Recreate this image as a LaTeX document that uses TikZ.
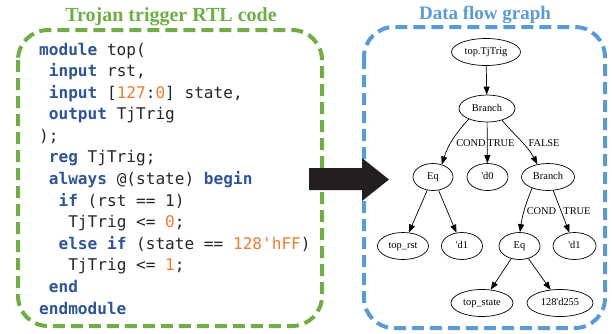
\documentclass[tikz,border=0pt]{standalone}
\usepackage{fontspec}
\setmainfont{Liberation Serif}
\setmonofont{DejaVu Sans Mono}
\usetikzlibrary{shapes.geometric,arrows.meta}

\definecolor{framegreen}{HTML}{70AD47}
\definecolor{frameblue}{HTML}{5B9BD5}
\definecolor{kwblue}{HTML}{2F5597}
\definecolor{numorange}{HTML}{ED7D31}
\definecolor{codetext}{HTML}{262626}
\definecolor{arrowblack}{HTML}{231F20}

% Verilog highlighting
\newcommand\kw[1]{{\color{kwblue}\bfseries #1}}
\newcommand\nm[1]{{\color{numorange}#1}}
\newcommand\sq{\textquotesingle}

\tikzset{
  frame/.style={line width=4pt, rounded corners=30pt, dash pattern=on 12pt off 6pt},
  paneltitle/.style={anchor=base, inner sep=0pt, font=\fontsize{20}{24}\selectfont\bfseries},
  codeline/.style={anchor=base west, inner sep=0pt, text=codetext,
    font=\fontsize{16.1}{20}\selectfont\ttfamily},
  gnode/.style={ellipse, draw, line width=0.7pt, minimum height=27pt, inner sep=1pt,
    text height=7pt, text depth=2pt, font=\fontsize{10.4}{12}\selectfont},
  glabel/.style={inner sep=0pt, font=\fontsize{10.4}{12}\selectfont},
  gedge/.style={line width=0.7pt, -{Triangle[length=8pt,width=6pt]}},
}

\begin{document}
\begin{tikzpicture}[x=1pt,y=-1pt]
\useasboundingbox (0,0) rectangle (612,333);

% panel frames and titles
\draw[frame, framegreen] (18,30) rectangle (322,326);
\draw[frame, frameblue] (364,27) rectangle (605,328);
\node[paneltitle, text=framegreen] (titlecode) at (171,21.5) {Trojan trigger RTL code};
\node[paneltitle, text=frameblue, font=\fontsize{19}{23}\selectfont\bfseries] (titlegraph) at (485,19) {Data flow graph};

% Verilog source, one node per line (x = 39 + indent*9.7)
\node[codeline] (l1)  at (39.0, 55.0)  {\kw{module} top(};
\node[codeline] (l2)  at (48.7, 76.6)  {\kw{input} rst,};
\node[codeline] (l3)  at (48.7, 98.2)  {\kw{input} [\nm{127}:\nm{0}] state,};
\node[codeline] (l4)  at (48.7, 119.7) {\kw{output} TjTrig};
\node[codeline] (l5)  at (39.0, 141.3) {);};
\node[codeline] (l6)  at (48.7, 162.9) {\kw{reg} TjTrig;};
\node[codeline] (l7)  at (48.7, 184.5) {\kw{always} @(state) \kw{begin}};
\node[codeline] (l8)  at (58.4, 206.1) {\kw{if} (rst == 1)};
\node[codeline] (l9)  at (68.1, 227.6) {TjTrig <= \nm{0};};
\node[codeline] (l10) at (58.4, 249.2) {\kw{else if} (state == \nm{128\sq hFF})};
\node[codeline] (l11) at (68.1, 270.8) {TjTrig <= \nm{1};};
\node[codeline] (l12) at (48.7, 292.4) {\kw{end}};
\node[codeline] (l13) at (39.0, 314.0) {\kw{endmodule}};

% block arrow between the panels
\fill[arrowblack] (309,168) -- (362,168) -- (362,158) -- (389,179.5)
  -- (362,201) -- (362,190) -- (309,190) -- cycle;

% data flow graph nodes
\node[gnode, minimum width=69pt] (top)   at (486,52)    {top.TjTrig};
\node[gnode, minimum width=56pt] (br1)   at (487,108.5) {Branch};
\node[gnode, minimum width=40pt] (eq1)   at (433,177)   {Eq};
\node[gnode, minimum width=41pt] (d0)    at (487.5,177) {\sq d0};
\node[gnode, minimum width=53pt] (br2)   at (548,177)   {Branch};
\node[gnode, minimum width=51pt] (rst)   at (403,246)   {top\_rst};
\node[gnode, minimum width=41pt] (d1a)   at (462,246)   {\sq d1};
\node[gnode, minimum width=41pt] (eq2)   at (519.5,246) {Eq};
\node[gnode, minimum width=43pt] (d1b)   at (574.5,246) {\sq d1};
\node[gnode, minimum width=62pt] (state) at (482,303)   {top\_state};
\node[gnode, minimum width=66pt] (c255)  at (560,303)   {128\sq d255};

% edge labels
\node[glabel] (lcond1)  at (471,143)   {COND};
\node[glabel] (ltrue1)  at (501,143)   {TRUE};
\node[glabel] (lfalse1) at (544,143)   {FALSE};
\node[glabel] (lcond2)  at (541.5,211) {COND};
\node[glabel] (ltrue2)  at (577,211)   {TRUE};

% data flow graph edges
\draw[gedge] (top) -- (br1);
\draw[gedge] (br1.-150) to[out=-132,in=72] (eq1.55);
\draw[gedge] (br1) -- (d0);
\draw[gedge] (br1.-38) to[out=-50,in=118] (br2.130);
\draw[gedge] (eq1) -- (rst);
\draw[gedge] (eq1) -- (d1a);
\draw[gedge] (br2.-145) to[out=-112,in=82] (eq2.88);
\draw[gedge] (br2) -- (d1b);
\draw[gedge] (eq2) -- (state);
\draw[gedge] (eq2) -- (c255);
\end{tikzpicture}
\end{document}
